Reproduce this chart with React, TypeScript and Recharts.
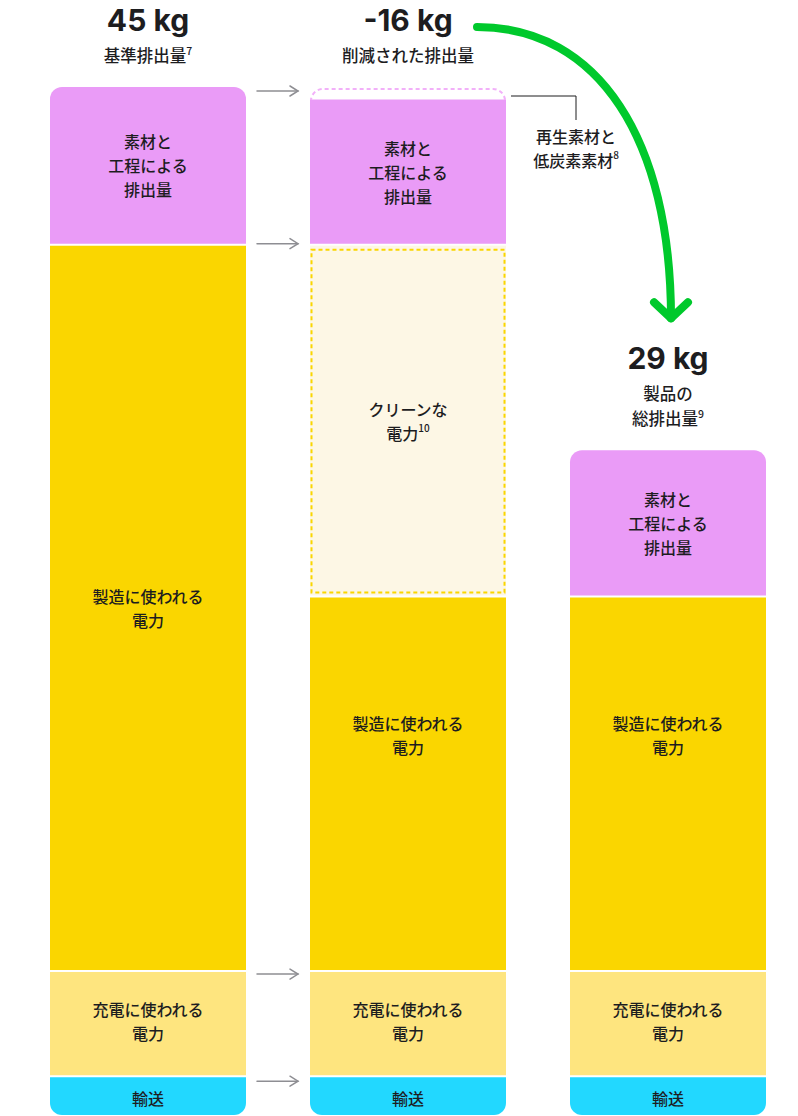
import React from 'react';
import { BarChart, Bar, XAxis, YAxis } from 'recharts';

// ---------- data ----------
const columns = ['基準', '削減', '製品'];
const totalLabels = ['45 kg', '-16 kg', '29 kg'];
const subtitleLines = [['基準排出量'], ['削減された排出量'], ['製品の', '総排出量']];
const subtitleNotes = ['7', '', '9'];

const transport = [1.7, 1.7, 1.7];
const charging = [4.6, 4.6, 4.6];
const manufacturing = [31.8, 16.4, 16.4];
const cleanPower = [0, 15.4, 0];
const materials = [6.9, 6.4, 6.4];
const recycled = [0, 0.5, 0];

const materialsLabel = ['素材と', '工程による', '排出量'];
const manufacturingLabel = ['製造に使われる', '電力'];
const chargingLabel = ['充電に使われる', '電力'];
const transportLabel = ['輸送'];
const cleanLabel = ['クリーンな', '電力'];
const cleanNote = '10';
const recycledLabel = ['再生素材と', '低炭素素材'];
const recycledNote = '8';

const data = columns.map((name, i) => ({
  name,
  transport: transport[i],
  charging: charging[i],
  manufacturing: manufacturing[i],
  clean: cleanPower[i],
  materials: materials[i],
  recycled: recycled[i],
}));

// ---------- layout ----------
const W = 798;
const H = 1116;
const ML = 18;
const MR = 0;
const MT = 87;
const MB = 1;
const BAND = (W - ML - MR) / columns.length;

const TEXT = '#1d1d1f';
const CJK = '"Noto Sans CJK JP", "Noto Sans", sans-serif';
const HEAD = 'Inter, "Noto Sans", "Noto Sans CJK JP", sans-serif';

const C = {
  materials: '#ea9bf7',
  manufacturing: '#fad600',
  charging: '#fee57f',
  transport: '#22d8ff',
  clean: '#fdf7e5',
  cleanStroke: '#fad600',
  recycledStroke: '#f2b0f9',
  arrow: '#8e8e93',
  green: '#00c92c',
};

function rr(x: number, y: number, w: number, h: number, rt: number, rb: number) {
  return [
    `M${x},${y + rt}`,
    rt ? `A${rt},${rt} 0 0 1 ${x + rt},${y}` : '',
    `L${x + w - rt},${y}`,
    rt ? `A${rt},${rt} 0 0 1 ${x + w},${y + rt}` : '',
    `L${x + w},${y + h - rb}`,
    rb ? `A${rb},${rb} 0 0 1 ${x + w - rb},${y + h}` : '',
    `L${x + rb},${y + h}`,
    rb ? `A${rb},${rb} 0 0 1 ${x},${y + h - rb}` : '',
    'Z',
  ].join(' ');
}

function Lines({ cx, cy, lines, note, size = 16, lh = 24 }: any) {
  const n = lines.length;
  return (
    <g>
      {lines.map((t: string, i: number) => (
        <text
          key={i}
          x={cx}
          y={cy + (i - (n - 1) / 2) * lh}
          textAnchor="middle"
          dominantBaseline="central"
          fontFamily={CJK}
          fontSize={size}
          fontWeight={500}
          fill={TEXT}
        >
          {t}
          {note && i === n - 1 ? (
            <tspan fontSize={10} dy={-6}>
              {note}
            </tspan>
          ) : null}
        </text>
      ))}
    </g>
  );
}

function GrayArrow({ x1, x2, y }: any) {
  return (
    <g stroke={C.arrow} strokeWidth={1.5} fill="none" strokeLinecap="round">
      <line x1={x1} y1={y} x2={x2} y2={y} />
      <polyline points={`${x2 - 8},${y - 5} ${x2},${y} ${x2 - 8},${y + 5}`} />
    </g>
  );
}

function Header({ cx, top, index }: any) {
  const lines = subtitleLines[index];
  const lastBase = top - 25;
  const firstBase = lastBase - (lines.length - 1) * 25;
  return (
    <g>
      <text
        x={cx}
        y={firstBase - 31}
        textAnchor="middle"
        fontFamily={HEAD}
        fontWeight={700}
        fontSize={30}
        fill={TEXT}
      >
        {totalLabels[index]}
      </text>
      {lines.map((t, i) => (
        <text
          key={i}
          x={cx}
          y={firstBase + i * 25}
          textAnchor="middle"
          fontFamily={CJK}
          fontSize={16.5}
          fontWeight={500}
          fill={TEXT}
        >
          {t}
          {i === lines.length - 1 && subtitleNotes[index] ? (
            <tspan fontSize={10.5} dy={-7}>
              {subtitleNotes[index]}
            </tspan>
          ) : null}
        </text>
      ))}
    </g>
  );
}

const arrowOffset: Record<string, number> = {
  materials: 4,
  manufacturing: -1,
  charging: 3,
  transport: 5,
};

function makeShape(kind: string) {
  return (props: any) => {
    const { x, y, width: w, height: h, index } = props;
    if (!h || h <= 0.01) return <g />;
    const cx = x + w / 2;
    const isTop =
      kind === 'recycled' || (kind === 'materials' && !recycled[index]);
    const top = isTop ? y : y + 1;
    const bottom = kind === 'transport' ? y + h : y + h - 1;
    const sh = bottom - top;
    const rt = isTop ? 12 : 0;
    const rb = kind === 'transport' ? 12 : 0;

    const arrow =
      index === 0 && arrowOffset[kind] !== undefined ? (
        <GrayArrow x1={x + w + 11} x2={x + w + 52} y={y + arrowOffset[kind]} />
      ) : null;

    if (kind === 'recycled') {
      const ppk = h / recycled[index];
      const col3Top = y + (recycled[index] + cleanPower[index]) * ppk;
      const sx = cx + 69;
      const sy = y - 60;
      const ex = cx + BAND + 3;
      const ey = col3Top - 132;
      const dashed = `M${x + 1},${y + h} L${x + 1},${y + 13} A12,12 0 0 1 ${x + 13},${y + 2} L${x + w - 13},${y + 2} A12,12 0 0 1 ${x + w - 1},${y + 13} L${x + w - 1},${y + h}`;
      const lx = x + w + 70;
      return (
        <g>
          <path d={rr(x, top, w, sh, 12, 0)} fill="#fff" />
          <path
            d={dashed}
            fill="none"
            stroke={C.recycledStroke}
            strokeWidth={2}
            strokeDasharray="4 3"
          />
          <path
            d={`M${x + w + 5},${y + 9} H${lx} V${y + 33}`}
            fill="none"
            stroke="#1d1d1f"
            strokeWidth={1}
          />
          <Lines cx={lx} cy={y + 61} lines={recycledLabel} note={recycledNote} />
          <Header cx={cx} top={y} index={index} />
          <path
            d={`M${sx},${sy} C${sx + 122},${sy} ${ex},${ey - 178} ${ex},${ey}`}
            fill="none"
            stroke={C.green}
            strokeWidth={8}
            strokeLinecap="round"
          />
          <path
            d={`M${ex - 17},${ey - 16} L${ex},${ey} L${ex + 17},${ey - 16}`}
            fill="none"
            stroke={C.green}
            strokeWidth={8}
            strokeLinecap="round"
            strokeLinejoin="round"
          />
        </g>
      );
    }

    if (kind === 'clean') {
      return (
        <g>
          <rect x={x} y={top} width={w} height={sh} fill={C.clean} />
          <rect
            x={x + 1.5}
            y={y + 5}
            width={w - 3}
            height={h - 9}
            fill="none"
            stroke={C.cleanStroke}
            strokeWidth={2}
            strokeDasharray="4 3"
          />
          <Lines cx={cx} cy={y + h / 2} lines={cleanLabel} note={cleanNote} />
        </g>
      );
    }

    let lines: string[] = [];
    let cy = top + sh / 2;
    let fill = '#ccc';
    if (kind === 'materials') {
      lines = materialsLabel;
      fill = C.materials;
    } else if (kind === 'manufacturing') {
      lines = manufacturingLabel;
      fill = C.manufacturing;
      if (sh < 500) cy = top + sh * 0.37;
    } else if (kind === 'charging') {
      lines = chargingLabel;
      fill = C.charging;
      cy = top + sh / 2 - 3;
    } else if (kind === 'transport') {
      lines = transportLabel;
      fill = C.transport;
      cy = top + sh / 2 + 2;
    }

    return (
      <g>
        <path d={rr(x, top, w, sh, rt, rb)} fill={fill} />
        <Lines cx={cx} cy={cy} lines={lines} />
        {isTop ? <Header cx={cx} top={y} index={index} /> : null}
        {arrow}
      </g>
    );
  };
}

export default function App() {
  return (
    <div style={{ position: 'absolute', left: 0, top: 0, width: W, height: H, background: '#fff' }}>
      <BarChart
        width={W}
        height={H}
        data={data}
        margin={{ top: MT, right: MR, bottom: MB, left: ML }}
        barSize={196}
      >
        <XAxis dataKey="name" hide />
        <YAxis hide domain={[0, 45]} />
        <Bar dataKey="transport" stackId="s" isAnimationActive={false} shape={makeShape('transport')} />
        <Bar dataKey="charging" stackId="s" isAnimationActive={false} shape={makeShape('charging')} />
        <Bar dataKey="manufacturing" stackId="s" isAnimationActive={false} shape={makeShape('manufacturing')} />
        <Bar dataKey="clean" stackId="s" isAnimationActive={false} shape={makeShape('clean')} />
        <Bar dataKey="materials" stackId="s" isAnimationActive={false} shape={makeShape('materials')} />
        <Bar dataKey="recycled" stackId="s" isAnimationActive={false} shape={makeShape('recycled')} />
      </BarChart>
    </div>
  );
}
